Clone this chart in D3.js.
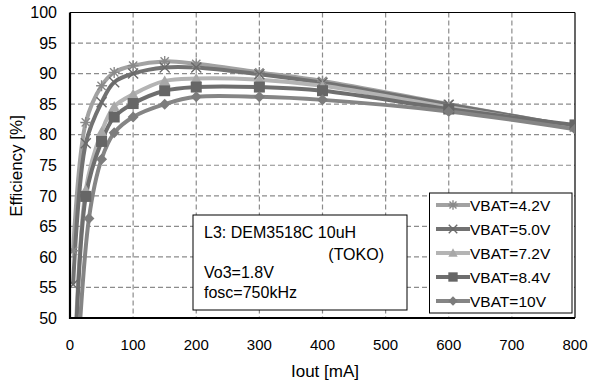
<!DOCTYPE html>
<html><head><meta charset="utf-8">
<script src="https://cdn.jsdelivr.net/npm/d3@7"></script>
<style>body{margin:0;background:#fff}svg{display:block;font-family:"Liberation Sans",Arial,sans-serif}</style>
</head><body><svg id="c" width="590" height="385"></svg>
<script>
const iout   = [5, 25, 50, 70, 100, 150, 200, 300, 400, 600, 800];
const iout10 = [5, 30, 50, 70, 100, 150, 200, 300, 400, 600, 800];
const v42 = [61.0, 82.0, 88.0, 90.2, 91.3, 92.0, 91.6, 90.2, 88.8, 85.0, 81.3];
const v50 = [55.5, 78.6, 85.3, 88.6, 90.0, 91.0, 91.0, 89.9, 88.5, 84.9, 81.3];
const v72 = [36.0, 71.0, 80.5, 84.6, 86.6, 88.8, 89.2, 89.0, 88.0, 84.5, 81.2];
const v84 = [33.0, 69.9, 78.9, 82.9, 85.1, 87.2, 87.8, 87.8, 87.2, 84.2, 81.6];
const v10 = [30.0, 66.3, 76.0, 80.3, 82.9, 85.0, 86.2, 86.2, 85.7, 83.8, 80.9];
const seriesNames = ["VBAT=4.2V","VBAT=5.0V","VBAT=7.2V","VBAT=8.4V","VBAT=10V"];
const xTicks = [0,100,200,300,400,500,600,700,800];
const yTicks = [50,55,60,65,70,75,80,85,90,95,100];
const noteLines = ["L3: DEM3518C 10uH","(TOKO)","Vo3=1.8V","fosc=750kHz"];

const series = [
  {name: seriesNames[0], xs: iout,   ys: v42, line:"#a2a2a2", mk:"#8a8a8a", shape:"star"},
  {name: seriesNames[1], xs: iout,   ys: v50, line:"#727272", mk:"#6a6a6a", shape:"x"},
  {name: seriesNames[2], xs: iout,   ys: v72, line:"#b4b4b4", mk:"#a8a8a8", shape:"tri"},
  {name: seriesNames[3], xs: iout,   ys: v84, line:"#6e6e6e", mk:"#666666", shape:"sq"},
  {name: seriesNames[4], xs: iout10, ys: v10, line:"#858585", mk:"#7c7c7c", shape:"dia"}
];

const svg = d3.select("#c");
const L=70, R=575, T=12.5, B=318;
const x = d3.scaleLinear().domain([0,800]).range([L,R]);
const y = d3.scaleLinear().domain([50,100]).range([B,T]);

// grid
const g = svg.append("g");
g.selectAll(".gx").data(xTicks.slice(1,-1)).join("line")
  .attr("x1",d=>x(d)).attr("x2",d=>x(d)).attr("y1",T).attr("y2",B)
  .attr("stroke","#8c8c8c").attr("stroke-width",1.2).attr("stroke-dasharray","5,3");
g.selectAll(".gy").data(yTicks.slice(1,-1)).join("line")
  .attr("y1",d=>y(d)).attr("y2",d=>y(d)).attr("x1",L).attr("x2",R)
  .attr("stroke","#8c8c8c").attr("stroke-width",1.2).attr("stroke-dasharray","5,3");

// frame top/right
svg.append("line").attr("x1",L).attr("x2",R).attr("y1",T).attr("y2",T).attr("stroke","#000").attr("stroke-width",1.2);
svg.append("line").attr("x1",R).attr("x2",R).attr("y1",T).attr("y2",B).attr("stroke","#000").attr("stroke-width",1.2);

// axes labels
svg.append("g").selectAll("text").data(yTicks).join("text")
  .attr("x",57).attr("y",d=>y(d)).attr("dy","0.36em").attr("text-anchor","end")
  .attr("font-size",16).attr("fill","#000").text(d=>d);
svg.append("g").selectAll("text").data(xTicks).join("text")
  .attr("x",d=>x(d)).attr("y",350).attr("text-anchor","middle")
  .attr("font-size",15).attr("fill","#000").text(d=>d);
svg.append("text").attr("x",325).attr("y",377).attr("text-anchor","middle")
  .attr("font-size",17).text("Iout [mA]");
svg.append("text").attr("transform","translate(22,166) rotate(-90)").attr("text-anchor","middle")
  .attr("font-size",17).text("Efficiency [%]");

// clip
svg.append("clipPath").attr("id","clip").append("rect").attr("x",L).attr("y",T).attr("width",R-L).attr("height",B-T);

function marker(sel, shape, color, cx, cy, s){
  const k = s||1;
  if(shape==="star"){
    const r=5.5*k;
    const p=`M${cx-r},${cy}L${cx+r},${cy}M${cx-r*0.75},${cy-r*0.75}L${cx+r*0.75},${cy+r*0.75}M${cx-r*0.75},${cy+r*0.75}L${cx+r*0.75},${cy-r*0.75}M${cx},${cy-r}L${cx},${cy+r}`;
    sel.append("path").attr("d",p).attr("stroke",color).attr("stroke-width",1.4).attr("fill","none");
  } else if(shape==="x"){
    const r=5*k;
    const p=`M${cx-r},${cy-r}L${cx+r},${cy+r}M${cx-r},${cy+r}L${cx+r},${cy-r}`;
    sel.append("path").attr("d",p).attr("stroke",color).attr("stroke-width",1.4).attr("fill","none");
  } else if(shape==="tri"){
    const r=5.5*k;
    sel.append("path").attr("d",`M${cx},${cy-r}L${cx+r},${cy+r*0.8}L${cx-r},${cy+r*0.8}Z`).attr("fill",color);
  } else if(shape==="sq"){
    const r=5.5*k;
    sel.append("rect").attr("x",cx-r).attr("y",cy-r).attr("width",2*r).attr("height",2*r).attr("fill",color);
  } else {
    const r=5.5*k;
    sel.append("path").attr("d",`M${cx},${cy-r}L${cx+r},${cy}L${cx},${cy+r}L${cx-r},${cy}Z`).attr("fill",color);
  }
}

const plot = svg.append("g").attr("clip-path","url(#clip)");
const lineGen = d3.line().x(d=>x(d[0])).y(d=>y(d[1])).curve(d3.curveCatmullRom.alpha(0.5));
series.forEach(s=>{
  const pts = s.xs.map((v,i)=>[v,s.ys[i]]);
  plot.append("path").attr("d",lineGen(pts)).attr("fill","none")
    .attr("stroke",s.line).attr("stroke-width",4).attr("stroke-linejoin","round");
});
series.forEach(s=>{
  const mg = plot.append("g");
  s.xs.forEach((v,i)=>marker(mg, s.shape, s.mk, x(v), y(s.ys[i])));
});

// left and bottom axis lines
svg.append("line").attr("x1",L).attr("x2",L).attr("y1",T).attr("y2",B+1).attr("stroke","#000").attr("stroke-width",2.2);
svg.append("line").attr("x1",L-1).attr("x2",R).attr("y1",B).attr("y2",B).attr("stroke","#000").attr("stroke-width",2.2);

// note box
const nb = svg.append("g");
nb.append("rect").attr("x",193).attr("y",215).attr("width",214).attr("height",95)
  .attr("fill","#fff").attr("stroke","#000").attr("stroke-width",1);
nb.append("text").attr("x",204).attr("y",238).attr("font-size",16).text(noteLines[0]);
nb.append("text").attr("x",384).attr("y",260).attr("text-anchor","end").attr("font-size",16).text(noteLines[1]);
nb.append("text").attr("x",204).attr("y",278).attr("font-size",16).text(noteLines[2]);
nb.append("text").attr("x",204).attr("y",298).attr("font-size",16).text(noteLines[3]);

// legend
const lg = svg.append("g");
lg.append("rect").attr("x",429.5).attr("y",193).attr("width",142.5).attr("height",120)
  .attr("fill","#fff").attr("stroke","#000").attr("stroke-width",1);
const rows=[205,229,253,277,301];
series.forEach((s,i)=>{
  lg.append("line").attr("x1",436).attr("x2",470).attr("y1",rows[i]).attr("y2",rows[i])
    .attr("stroke",s.line).attr("stroke-width",4);
  marker(lg, s.shape, s.mk, 453, rows[i], 0.85);
  lg.append("text").attr("x",470).attr("y",rows[i]).attr("dy","0.36em").attr("font-size",15.5).text(s.name);
});
</script></body></html>
